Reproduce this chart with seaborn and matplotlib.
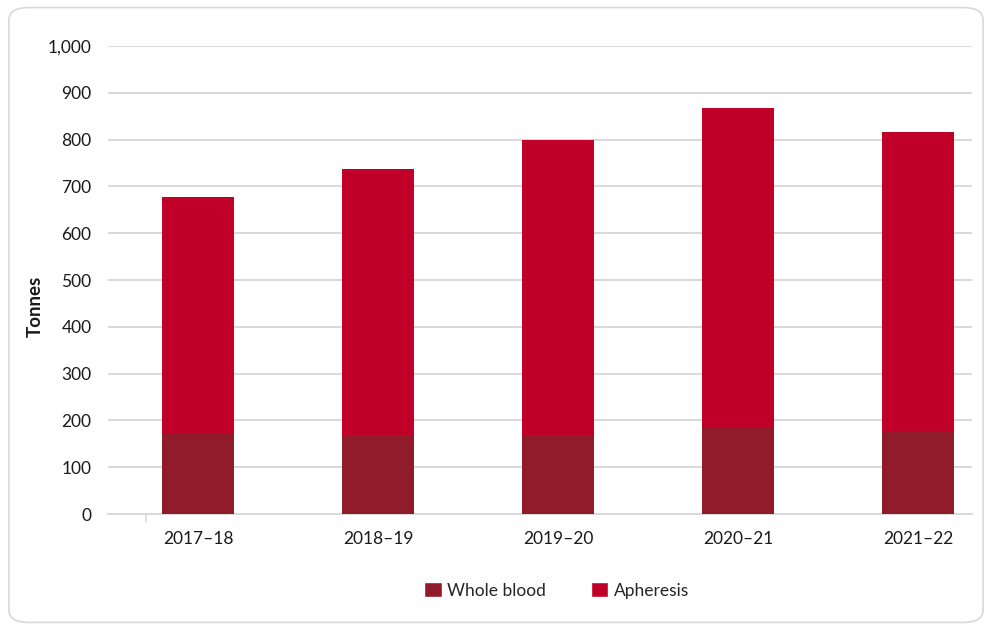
import numpy as np
import pandas as pd
import matplotlib
matplotlib.use("Agg")
import matplotlib.pyplot as plt
from matplotlib.patches import FancyBboxPatch, Patch
import seaborn as sns

years = ["2017–18", "2018–19", "2019–20", "2020–21", "2021–22"]
whole_blood = [173, 168, 170, 183, 178]
apheresis = [505, 569, 630, 684, 639]
y_ticks = [0, 100, 200, 300, 400, 500, 600, 700, 800, 900, 1000]

WB_COLOR = "#901B2B"
AP_COLOR = "#C00028"
GRID = "#D9D9D9"

sns.set_theme(style="white")
plt.rcParams["font.family"] = ["Lato", "DejaVu Sans"]

df = pd.DataFrame({"year": years, "whole": whole_blood, "aph": apheresis})
df["total"] = df["whole"] + df["aph"]

fig = plt.figure(figsize=(9.92, 6.3), dpi=100)
ax = fig.add_axes([0.109, 0.184, 0.871, 0.743])

# stacked bars: full stack height in apheresis colour, whole blood drawn over its base
sns.barplot(data=df, x="year", y="total", color=AP_COLOR, width=0.4,
            saturation=1, linewidth=0, ax=ax, zorder=3)
sns.barplot(data=df, x="year", y="whole", color=WB_COLOR, width=0.4,
            saturation=1, linewidth=0, ax=ax, zorder=4)

ax.set_ylim(0, 1000)
ax.set_xlim(-0.5, 4.3)
ax.set_yticks(y_ticks)
ax.set_yticklabels([f"{v:,}" for v in y_ticks])
ax.yaxis.grid(True, color=GRID, linewidth=1.4, zorder=0)
ax.set_axisbelow(True)
for s in ["top", "right", "left"]:
    ax.spines[s].set_visible(False)
ax.spines["bottom"].set_color(GRID)
ax.spines["bottom"].set_linewidth(1.4)
ax.tick_params(axis="y", length=0, pad=12, labelsize=12.5, colors="#1a1a1a")
ax.tick_params(axis="x", length=0, pad=12, labelsize=12.5, colors="#1a1a1a")
ax.set_xlabel("")
ax.set_ylabel("Tonnes", fontsize=13.5, fontweight="bold", labelpad=3, color="#1a1a1a")
ax.yaxis.label.set_y(0.443)

# small tick mark below the axis line near the left edge
ax.plot([-0.29, -0.29], [0, -0.017], transform=ax.get_xaxis_transform(),
        color=GRID, linewidth=1.2, clip_on=False)

handles = [Patch(facecolor=WB_COLOR, label="Whole blood"),
           Patch(facecolor=AP_COLOR, label="Apheresis")]
fig.legend(handles=handles, loc="center", bbox_to_anchor=(0.561, 0.063), ncol=2,
           frameon=False, fontsize=12.5, handlelength=1.0, handleheight=1.0,
           handletextpad=0.3, columnspacing=2.6)

# rounded frame around the chart
frame = FancyBboxPatch((0.009, 0.012), 0.982, 0.976,
                       boxstyle="round,pad=0,rounding_size=0.02",
                       transform=fig.transFigure, facecolor="none",
                       edgecolor=GRID, linewidth=1.2)
fig.patches.append(frame)

fig.savefig("out.png", dpi=100)
